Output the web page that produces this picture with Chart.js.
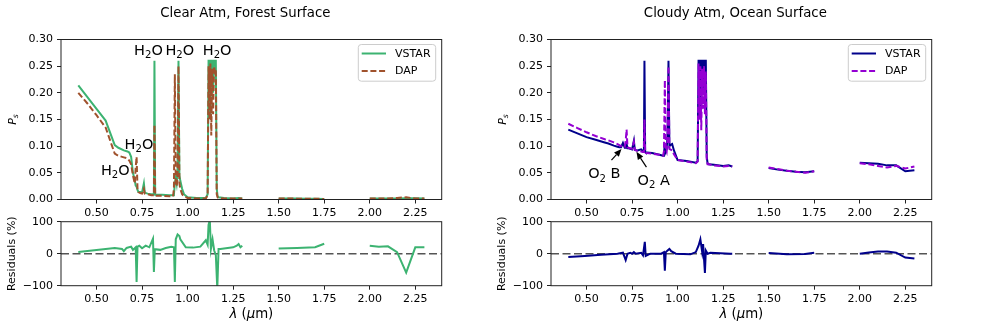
<!DOCTYPE html>
<html>
<head>
<meta charset="utf-8">
<script src="https://cdn.jsdelivr.net/npm/chart.js@4.4.1/dist/chart.umd.min.js"></script>
<style>
  html, body { margin: 0; padding: 0; background: #fff; }
  #wrap { position: relative; width: 981px; height: 327px; }
  #wrap canvas { position: absolute; left: 0; top: 0; }
</style>
</head>
<body>
<div id="wrap">
  <canvas id="clearTop" width="981" height="327"></canvas>
  <canvas id="clearResid" width="981" height="327"></canvas>
  <canvas id="cloudyTop" width="981" height="327"></canvas>
  <canvas id="cloudyResid" width="981" height="327"></canvas>
</div>
<script>
// wavelength grid (um) for the P_s spectra; null values in the series break the line (gaps)
const wavelength = [0.40, 0.45, 0.50, 0.55, 0.60, 0.62, 0.65, 0.67, 0.68, 0.69,
  0.70, 0.71, 0.715, 0.72, 0.725, 0.73, 0.74, 0.75, 0.76, 0.765,
  0.78, 0.80, 0.81, 0.815, 0.818, 0.822, 0.825, 0.83, 0.86, 0.90,
  0.92, 0.925, 0.93, 0.935, 0.94, 0.945, 0.95, 0.955, 0.96, 0.97,
  0.98, 1.00, 1.05, 1.10, 1.11, 1.115, 1.12, 1.125, 1.13, 1.135,
  1.14, 1.145, 1.15, 1.155, 1.16, 1.165, 1.17, 1.20, 1.25, 1.28,
  1.30, 1.40, 1.50, 1.55, 1.60, 1.65, 1.70, 1.75, 1.875, 2.00,
  2.05, 2.10, 2.15, 2.20, 2.25, 2.30];

const vstarClear = [0.214, 0.192, 0.170, 0.148, 0.102, 0.097, 0.092, 0.090, 0.088, 0.080,
  0.050, 0.036, 0.026, 0.024, 0.018, 0.014, 0.014, 0.013, 0.030, 0.013,
  0.011, 0.010, 0.010, 0.010, 0.260, 0.009, 0.009, 0.009, 0.009, 0.008,
  0.008, 0.010, 0.030, 0.040, 0.030, 0.050, 0.260, 0.045, 0.035, 0.020,
  0.010, 0.004, 0.003, 0.003, 0.010, 0.260, 0.260, 0.150, 0.260, 0.260,
  0.200, 0.260, 0.260, 0.260, 0.020, 0.006, 0.004, 0.003, 0.002, 0.003,
  0.002, null, 0.002, 0.002, 0.002, 0.0015, 0.0015, 0.001, null, 0.002,
  0.002, 0.002, 0.002, 0.0025, 0.0025, 0.002];

const dapClear = [0.200, 0.180, 0.158, 0.135, 0.086, 0.082, 0.079, 0.077, 0.073, 0.066,
  0.045, 0.030, 0.060, 0.080, 0.020, 0.014, 0.012, 0.011, 0.020, 0.011,
  0.010, 0.008, 0.008, 0.008, 0.140, 0.007, 0.007, 0.007, 0.007, 0.006,
  0.006, 0.020, 0.235, 0.030, 0.025, 0.040, 0.250, 0.030, 0.020, 0.010,
  0.006, 0.003, 0.002, 0.002, 0.008, 0.250, 0.150, 0.255, 0.120, 0.245,
  0.160, 0.250, 0.240, 0.245, 0.010, 0.004, 0.003, 0.002, 0.002, 0.002,
  0.002, null, 0.002, 0.002, 0.0015, 0.0015, 0.0015, 0.001, null, 0.002,
  0.002, 0.002, 0.003, 0.004, 0.002, 0.002];

const vstarCloudy = [0.131, 0.124, 0.117, 0.112, 0.107, 0.105, 0.101, 0.099, 0.098, 0.098,
  0.106, 0.097, 0.097, 0.104, 0.096, 0.096, 0.095, 0.094, 0.110, 0.093,
  0.092, 0.094, 0.090, 0.090, 0.260, 0.089, 0.088, 0.088, 0.087, 0.084,
  0.082, 0.085, 0.105, 0.090, 0.095, 0.120, 0.260, 0.100, 0.102, 0.104,
  0.092, 0.074, 0.072, 0.069, 0.072, 0.260, 0.260, 0.150, 0.260, 0.260,
  0.200, 0.260, 0.260, 0.260, 0.080, 0.067, 0.066, 0.065, 0.063, 0.064,
  0.062, null, 0.059, 0.056, 0.054, 0.052, 0.051, 0.053, null, 0.069,
  0.068, 0.067, 0.064, 0.064, 0.053, 0.055];

const dapCloudy = [0.142, 0.134, 0.126, 0.119, 0.113, 0.111, 0.107, 0.104, 0.102, 0.100,
  0.100, 0.099, 0.110, 0.131, 0.098, 0.097, 0.096, 0.095, 0.108, 0.093,
  0.091, 0.090, 0.089, 0.089, 0.150, 0.088, 0.087, 0.087, 0.086, 0.084,
  0.082, 0.090, 0.224, 0.095, 0.090, 0.110, 0.250, 0.095, 0.094, 0.092,
  0.085, 0.074, 0.071, 0.068, 0.071, 0.255, 0.150, 0.250, 0.130, 0.245,
  0.170, 0.250, 0.160, 0.240, 0.075, 0.066, 0.066, 0.064, 0.062, 0.063,
  0.062, null, 0.060, 0.057, 0.054, 0.052, 0.050, 0.053, null, 0.068,
  0.066, 0.063, 0.060, 0.063, 0.058, 0.062];

// residuals (%)
const wlResidClear = [0.40, 0.60, 0.64, 0.65, 0.665, 0.69, 0.70, 0.715, 0.72, 0.725,
  0.735, 0.75, 0.77, 0.79, 0.81, 0.815, 0.82, 0.85, 0.88, 0.91,
  0.925, 0.93, 0.935, 0.945, 0.955, 0.96, 0.99, 1.03, 1.07, 1.10,
  1.11, 1.115, 1.122, 1.128, 1.137, 1.146, 1.155, 1.163, 1.17, 1.18,
  1.22, 1.25, 1.27, 1.28, 1.29, 1.30, 1.40, 1.50, 1.60, 1.70,
  1.75, 1.875, 2.00, 2.05, 2.10, 2.15, 2.20, 2.25, 2.30];
const residClear = [5, 18, 15, 8, 18, 22, 12, 20, -88, 22,
  25, 17, 25, 20, 47, -57, 14, 12, 18, 22,
  20, -88, 45, 60, 55, 45, 20, 19, 22, 42,
  28, 90, 105, 15, 45, 10, -5, -110, 15, 15,
  18, 20, 25, 30, 20, 25, null, 16, 18, 20,
  31, null, 25, 22, 23, 5, -59, 20, 20];

const wlResidCloudy = [0.40, 0.49, 0.58, 0.67, 0.70, 0.715, 0.725, 0.74, 0.75, 0.76,
  0.77, 0.80, 0.81, 0.82, 0.825, 0.85, 0.91, 0.925, 0.93, 0.935,
  0.945, 0.955, 0.965, 0.99, 1.07, 1.10, 1.115, 1.125, 1.135, 1.14,
  1.15, 1.155, 1.165, 1.18, 1.29, 1.30, 1.40, 1.50, 1.60, 1.70,
  1.75, 1.875, 2.00, 2.05, 2.10, 2.15, 2.20, 2.25, 2.30];
const residCloudy = [-10, -7, -3, 0, 3, -20, 0, 3, 0, 5,
  0, 3, -5, 37, -7, 0, 0, 5, -53, 5,
  10, 15, 8, 0, -2, 5, 25, 45, 5, 30,
  -60, 10, 0, 3, 0, 0, null, 2, -2, -1,
  3, null, 0, 4, 7, 7, 3, -12, -15];

// axes
const xRange = [0.305, 2.395];
const xTicks = [0.50, 0.75, 1.00, 1.25, 1.50, 1.75, 2.00, 2.25];
const psRange = [0, 0.30];
const psTicks = [0.00, 0.05, 0.10, 0.15, 0.20, 0.25, 0.30];
const residRange = [-100, 100];
const residTicks = [-100, 0, 100];

const FONT = '"DejaVu Sans", sans-serif';
const W = 981, H = 327;

function pts(xs, ys) {
  return xs.map((x, i) => ({ x: x, y: ys[i] }));
}

function rich(ctx, parts, x, y, size, align) {
  let total = 0;
  const runs = parts.map(p => {
    const s = p.sub ? size * 0.7 : size;
    const f = (p.italic ? 'italic ' : '') + s + 'px ' + FONT;
    ctx.font = f;
    const w = ctx.measureText(p.t).width;
    total += w;
    return { p, f, w };
  });
  let cx = align === 'center' ? x - total / 2 : (align === 'right' ? x - total : x);
  ctx.textAlign = 'left';
  ctx.textBaseline = 'alphabetic';
  runs.forEach(r => {
    ctx.font = r.f;
    ctx.fillText(r.p.t, cx, y + (r.p.sub ? size * 0.22 : 0));
    cx += r.w;
  });
}

function arrow(ctx, x0, y0, x1, y1) {
  const ang = Math.atan2(y1 - y0, x1 - x0);
  const len = 7.5, half = 3.2;
  const bx = x1 - len * Math.cos(ang), by = y1 - len * Math.sin(ang);
  ctx.strokeStyle = '#000';
  ctx.fillStyle = '#000';
  ctx.lineWidth = 1.2;
  ctx.beginPath();
  ctx.moveTo(x0, y0);
  ctx.lineTo(bx, by);
  ctx.stroke();
  ctx.beginPath();
  ctx.moveTo(x1, y1);
  ctx.lineTo(bx + half * Math.sin(ang), by - half * Math.cos(ang));
  ctx.lineTo(bx - half * Math.sin(ang), by + half * Math.cos(ang));
  ctx.closePath();
  ctx.fill();
}

const H2O = [{ t: 'H' }, { t: '2', sub: true }, { t: 'O' }];

// per-canvas decorations: frame, titles, axis labels, legend, notes
const decorById = {
  clearTop: {
    title: 'Clear Atm, Forest Surface',
    yLabel: 'ps',
    legend: [
      { label: 'VSTAR', color: '#3cb371', dash: [] },
      { label: 'DAP', color: '#a0522d', dash: [6, 2.7] }
    ],
    notes: [
      { parts: H2O, x: 0.785, y: 0.2706 },
      { parts: H2O, x: 0.957, y: 0.2706 },
      { parts: H2O, x: 1.162, y: 0.2706 },
      { parts: H2O, x: 0.733, y: 0.0954 },
      { parts: H2O, x: 0.603, y: 0.0456 }
    ],
    arrows: []
  },
  clearResid: { yLabel: 'resid', xLabel: true },
  cloudyTop: {
    title: 'Cloudy Atm, Ocean Surface',
    yLabel: 'ps',
    legend: [
      { label: 'VSTAR', color: '#00008b', dash: [] },
      { label: 'DAP', color: '#9400d3', dash: [6, 2.7] }
    ],
    notes: [
      { parts: [{ t: 'O' }, { t: '2', sub: true }, { t: ' B' }], x: 0.509, y: 0.0394, align: 'left' },
      { parts: [{ t: 'O' }, { t: '2', sub: true }, { t: ' A' }], x: 0.780, y: 0.0268, align: 'left' }
    ],
    arrows: [
      { from: [0.637, 0.0737], to: [0.692, 0.0945] },
      { from: [0.829, 0.0606], to: [0.774, 0.0893] }
    ]
  },
  cloudyResid: { yLabel: 'resid', xLabel: true }
};

const decor = {
  id: 'decor',
  afterDraw(chart) {
    const d = decorById[chart.canvas.id];
    if (!d) return;
    const ctx = chart.ctx, a = chart.chartArea;
    const xs = chart.scales.x, ys = chart.scales.y;
    ctx.save();
    ctx.strokeStyle = '#222';
    ctx.lineWidth = 1;
    ctx.setLineDash([]);
    ctx.strokeRect(a.left, a.top, a.right - a.left, a.bottom - a.top);

    ctx.fillStyle = '#000';
    if (d.title) {
      ctx.font = '13.3px ' + FONT;
      ctx.textAlign = 'center';
      ctx.textBaseline = 'alphabetic';
      ctx.fillText(d.title, (a.left + a.right) / 2 - 6, 16.7);
    }
    const cy = (a.top + a.bottom) / 2;
    if (d.yLabel === 'ps') {
      ctx.save();
      ctx.translate(a.left - 45, cy);
      ctx.rotate(-Math.PI / 2);
      rich(ctx, [{ t: 'P', italic: true }, { t: 's', italic: true, sub: true }], 0, 0, 11, 'center');
      ctx.restore();
    } else if (d.yLabel === 'resid') {
      ctx.save();
      ctx.translate(a.left - 46, cy);
      ctx.rotate(-Math.PI / 2);
      ctx.font = '11px ' + FONT;
      ctx.textAlign = 'center';
      ctx.textBaseline = 'alphabetic';
      ctx.fillText('Residuals (%)', 0, 0);
      ctx.restore();
    }
    if (d.xLabel) {
      rich(ctx, [{ t: '\u03bb', italic: true }, { t: ' (' }, { t: '\u03bc', italic: true }, { t: 'm)' }],
        (a.left + a.right) / 2, 317.5, 13.3, 'center');
    }
    if (d.legend) {
      const bw = 77.4, bh = 36.7;
      const bx = a.right - 6 - bw, by = a.top + 5;
      ctx.beginPath();
      ctx.roundRect(bx, by, bw, bh, 3);
      ctx.fillStyle = 'rgba(255,255,255,0.8)';
      ctx.fill();
      ctx.strokeStyle = '#cccccc';
      ctx.lineWidth = 1;
      ctx.stroke();
      d.legend.forEach((item, i) => {
        const ly = by + 9 + i * 17.4;
        ctx.strokeStyle = item.color;
        ctx.lineWidth = 2;
        ctx.setLineDash(item.dash);
        ctx.beginPath();
        ctx.moveTo(bx + 3.4, ly);
        ctx.lineTo(bx + 27.7, ly);
        ctx.stroke();
        ctx.setLineDash([]);
        ctx.fillStyle = '#000';
        ctx.font = '11px ' + FONT;
        ctx.textAlign = 'left';
        ctx.textBaseline = 'middle';
        ctx.fillText(item.label, bx + 36.7, ly + 0.5);
      });
    }
    ctx.fillStyle = '#000';
    (d.notes || []).forEach(n => {
      rich(ctx, n.parts, xs.getPixelForValue(n.x), ys.getPixelForValue(n.y), 14.5, n.align || 'center');
    });
    (d.arrows || []).forEach(ar => {
      arrow(ctx, xs.getPixelForValue(ar.from[0]), ys.getPixelForValue(ar.from[1]),
        xs.getPixelForValue(ar.to[0]), ys.getPixelForValue(ar.to[1]));
    });
    ctx.restore();
  }
};

function makeChart(id, area, yRange, yTicks, yFmt, datasets) {
  const YW = 50, XH = 22;
  return new Chart(document.getElementById(id), {
    type: 'line',
    data: { datasets: datasets },
    options: {
      responsive: false,
      animation: false,
      events: [],
      layout: {
        padding: { left: area.left - YW, top: area.top, right: W - area.right, bottom: H - area.bottom - XH }
      },
      plugins: { legend: { display: false }, tooltip: { enabled: false } },
      elements: { point: { radius: 0 }, line: { tension: 0 } },
      scales: {
        x: {
          type: 'linear',
          min: xRange[0],
          max: xRange[1],
          afterBuildTicks: s => { s.ticks = xTicks.map(v => ({ value: v })); },
          afterFit: s => { s.height = XH; },
          grid: { drawOnChartArea: false, drawTicks: true, tickLength: 4, color: '#222' },
          border: { display: false },
          ticks: {
            color: '#000', font: { family: FONT, size: 11 }, padding: 3,
            maxRotation: 0, autoSkip: false,
            callback: v => v.toFixed(2)
          }
        },
        y: {
          type: 'linear',
          min: yRange[0],
          max: yRange[1],
          afterBuildTicks: s => { s.ticks = yTicks.map(v => ({ value: v })); },
          afterFit: s => { s.width = YW; },
          grid: { drawOnChartArea: false, drawTicks: true, tickLength: 4, color: '#222' },
          border: { display: false },
          ticks: {
            color: '#000', font: { family: FONT, size: 11 }, padding: 4,
            autoSkip: false,
            callback: yFmt
          }
        }
      }
    },
    plugins: [decor]
  });
}

const psFmt = v => v.toFixed(2);
const residFmt = v => (v < 0 ? '\u2212' + Math.abs(v) : String(v));

function specSet(label, values, color, dashed, order) {
  return {
    label: label,
    data: pts(wavelength, values),
    borderColor: color,
    borderWidth: 2,
    borderDash: dashed ? [6, 2.7] : [],
    spanGaps: false,
    fill: false,
    order: order
  };
}

function residSets(xs, ys, color) {
  return [
    { label: 'resid', data: pts(xs, ys), borderColor: color, borderWidth: 2, spanGaps: false, fill: false, order: 0 },
    { label: 'zero', data: pts(xRange, [0, 0]), borderColor: '#555', borderWidth: 1.5, borderDash: [8, 3.5], fill: false, order: 1 }
  ];
}

makeChart('clearTop', { left: 61, top: 39.5, right: 441.7, bottom: 199.5 }, psRange, psTicks, psFmt, [
  specSet('VSTAR', vstarClear, '#3cb371', false, 1),
  specSet('DAP', dapClear, '#a0522d', true, 0)
]);
makeChart('clearResid', { left: 61, top: 221.7, right: 441.7, bottom: 285.7 }, residRange, residTicks, residFmt,
  residSets(wlResidClear, residClear, '#3cb371'));
makeChart('cloudyTop', { left: 551, top: 39.5, right: 931.7, bottom: 199.5 }, psRange, psTicks, psFmt, [
  specSet('VSTAR', vstarCloudy, '#00008b', false, 1),
  specSet('DAP', dapCloudy, '#9400d3', true, 0)
]);
makeChart('cloudyResid', { left: 551, top: 221.7, right: 931.7, bottom: 285.7 }, residRange, residTicks, residFmt,
  residSets(wlResidCloudy, residCloudy, '#00008b'));
</script>
</body>
</html>
